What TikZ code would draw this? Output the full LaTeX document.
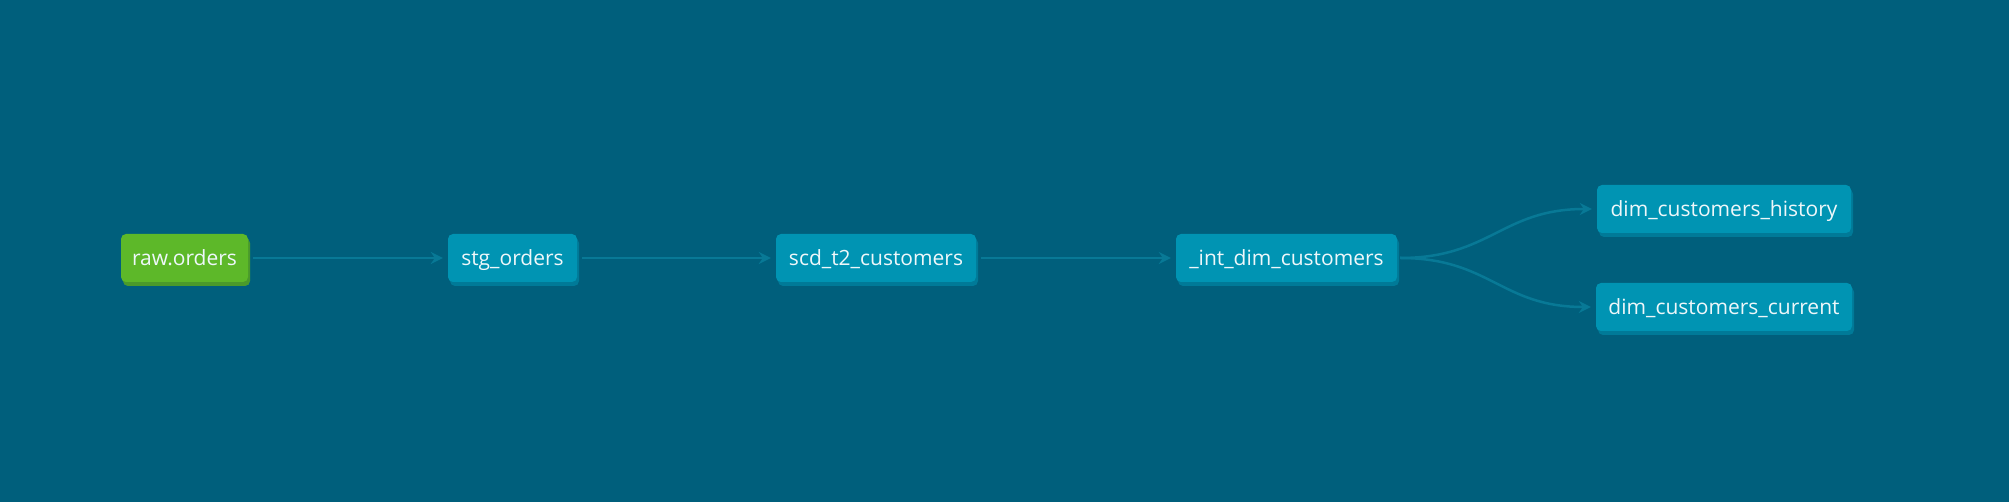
\documentclass[tikz,border=0pt]{standalone}
\usepackage{fontspec}
\setmainfont{Open Sans}
\usetikzlibrary{arrows.meta,shadows}
\definecolor{bg}{HTML}{005F7C}
\definecolor{nodeblue}{HTML}{0094B3}
\definecolor{shadowblue}{HTML}{007A98}
\definecolor{nodegreen}{HTML}{5DB829}
\definecolor{shadowgreen}{HTML}{4A9A2B}
\definecolor{edgec}{HTML}{087996}
\definecolor{txt}{HTML}{EEF7FA}
\tikzset{
  modelbox/.style={rounded corners=5pt, fill=nodeblue, text=txt, minimum height=48pt,
    inner sep=0pt, text height=20pt, text depth=4pt, font=\fontsize{21}{24}\selectfont,
    general shadow={fill=shadowblue, shadow xshift=2pt, shadow yshift=-4pt}},
  sourcebox/.style={modelbox, fill=nodegreen,
    general shadow={fill=shadowgreen, shadow xshift=2pt, shadow yshift=-4pt}},
  link/.style={draw=edgec, line width=2.5pt, -{Stealth[length=12pt,width=12pt,inset=4pt]}},
}
\begin{document}
\begin{tikzpicture}[x=1pt,y=1pt]
\fill[bg] (0,0) rectangle (2009,502);
\useasboundingbox (0,0) rectangle (2009,502);
\node[sourcebox, minimum width=127pt] (raw) at (184.5,244) {raw.orders};
\node[modelbox, minimum width=129pt] (stg) at (512.5,244) {stg\_orders};
\node[modelbox, minimum width=200pt] (scd) at (876,244) {scd\_t2\_customers};
\node[modelbox, minimum width=221pt] (int) at (1286.5,244) {\_int\_dim\_customers};
\node[modelbox, minimum width=254pt] (hist) at (1724,293) {dim\_customers\_history};
\node[modelbox, minimum width=256pt] (cur) at (1724,195) {dim\_customers\_current};
\draw[link] ([xshift=5pt]raw.east) -- ([xshift=-5pt]stg.west);
\draw[link] ([xshift=5pt]stg.east) -- ([xshift=-5pt]scd.west);
\draw[link] ([xshift=5pt]scd.east) -- ([xshift=-5pt]int.west);
\draw[link] ([xshift=3pt]int.east) .. controls +(90,0) and +(-90,0) .. ([xshift=-5pt]hist.west);
\draw[link] ([xshift=3pt]int.east) .. controls +(90,0) and +(-90,0) .. ([xshift=-5pt]cur.west);
\end{tikzpicture}
\end{document}
